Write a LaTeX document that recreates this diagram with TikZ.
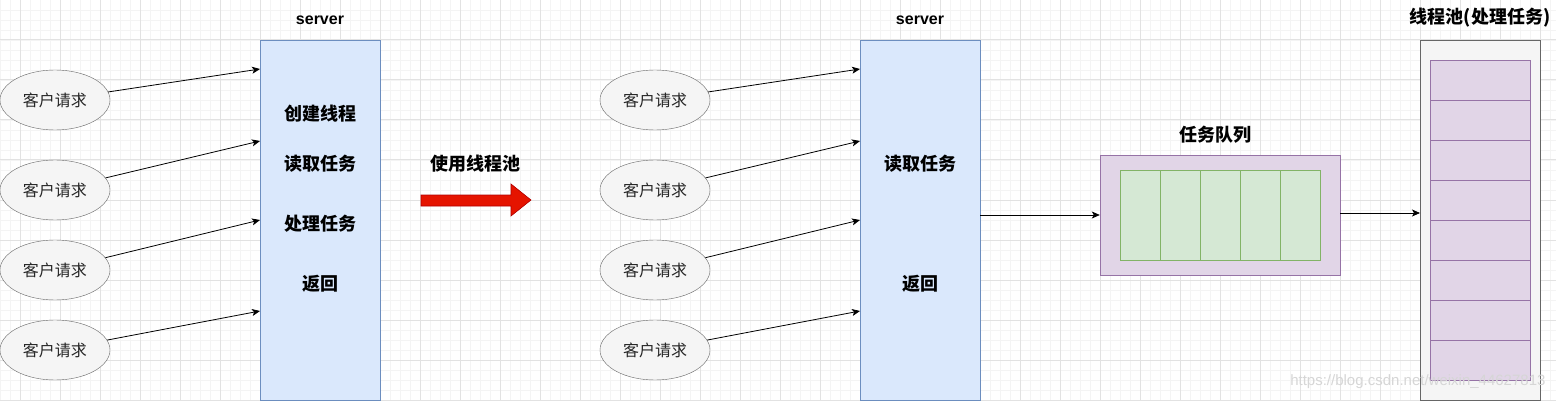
\documentclass[tikz,border=0pt]{standalone}
\usepackage{fontspec}
\setmainfont{Liberation Sans}
\newfontfamily\cjk{Noto Sans CJK SC}
\usetikzlibrary{arrows.meta,shapes.geometric}
\definecolor{bluefill}{HTML}{DAE8FC}
\definecolor{blueline}{HTML}{6C8EBF}
\definecolor{grayfill}{HTML}{F5F5F5}
\definecolor{grayline}{HTML}{666666}
\definecolor{purplefill}{HTML}{E1D5E7}
\definecolor{purpleline}{HTML}{9673A6}
\definecolor{greenfill}{HTML}{D5E8D4}
\definecolor{greenline}{HTML}{82B366}
\definecolor{redfill}{HTML}{E51400}
\definecolor{redline}{HTML}{B20000}
\definecolor{gridmajor}{HTML}{E2E2E2}
\definecolor{gridminor}{HTML}{F4F4F4}
\definecolor{wmark}{HTML}{D6D6D6}
\tikzset{
  client/.style={ellipse, draw=grayline, fill=grayfill, minimum width=110pt, minimum height=60pt, inner sep=0pt, text=black!85, font=\cjk\fontsize{16}{19}\selectfont},
  srvbox/.style={rectangle, draw=blueline, fill=bluefill, minimum width=120pt, minimum height=360pt, inner sep=0pt},
  latintitle/.style={font=\bfseries\fontsize{16}{19}\selectfont},
  cjktitle/.style={font=\cjk\bfseries\fontsize{18}{21}\selectfont},
  conn/.style={-{Stealth[length=8pt,width=7pt,inset=2pt]}, line width=0.8pt, black},
  cell/.style={rectangle, inner sep=0pt},
}
\begin{document}
\begin{tikzpicture}[x=1pt,y=-1pt]
\useasboundingbox (0,0) rectangle (1556,401);
\fill[white] (0,0) rectangle (1556,401);
% grid
\foreach \x in {0,10,...,1550} \draw[gridminor, line width=0.8pt] (\x,0) -- (\x,401);
\foreach \y in {10,20,...,400} \draw[gridminor, line width=0.8pt] (0,\y) -- (1556,\y);
\foreach \x in {20,60,...,1540} \draw[gridmajor, line width=1pt] (\x,0) -- (\x,401);
\foreach \y in {0,40,...,400} \draw[gridmajor, line width=1pt] (0,\y) -- (1556,\y);

% ---------- left part ----------
\node[srvbox] (srvL) at (320,220) {};
\node[latintitle] (srvLt) at (320,20) {server};
\node[cjktitle] (sl1) at (320,114) {创建线程};
\node[cjktitle] (sl2) at (320,164) {读取任务};
\node[cjktitle] (sl3) at (320,224) {处理任务};
\node[cjktitle] (sl4) at (320,284) {返回};

\node[client] (a1) at (55,100) {客户请求};
\node[client] (a2) at (55,190) {客户请求};
\node[client] (a3) at (55,270) {客户请求};
\node[client] (a4) at (55,350) {客户请求};
\coordinate (ta1) at (260,69);
\coordinate (ta2) at (260,141);
\coordinate (ta3) at (260,220);
\coordinate (ta4) at (260,311);
\draw[conn] (a1) -- (ta1);
\draw[conn] (a2) -- (ta2);
\draw[conn] (a3) -- (ta3);
\draw[conn] (a4) -- (ta4);

% ---------- red arrow ----------
\node[cjktitle] (use) at (475,164) {使用线程池};
\draw[fill=redfill, draw=redline, line width=0.6pt]
  (421,195) -- (511,195) -- (511,184) -- (531,200) -- (511,216) -- (511,206) -- (421,206) -- cycle;

% ---------- right part ----------
\node[srvbox] (srvR) at (920,220) {};
\node[latintitle] (srvRt) at (920,20) {server};
\node[cjktitle] (sr2) at (920,164) {读取任务};
\node[cjktitle] (sr4) at (920,284) {返回};

\node[client] (b1) at (655,100) {客户请求};
\node[client] (b2) at (655,190) {客户请求};
\node[client] (b3) at (655,270) {客户请求};
\node[client] (b4) at (655,350) {客户请求};
\coordinate (tb1) at (860,69);
\coordinate (tb2) at (860,141);
\coordinate (tb3) at (860,220);
\coordinate (tb4) at (860,311);
\draw[conn] (b1) -- (tb1);
\draw[conn] (b2) -- (tb2);
\draw[conn] (b3) -- (tb3);
\draw[conn] (b4) -- (tb4);

% ---------- queue ----------
\node[rectangle, draw=purpleline, fill=purplefill, minimum width=240pt, minimum height=120pt, inner sep=0pt] (q) at (1220,215) {};
\node[cjktitle] (qt) at (1215,135) {任务队列};
\foreach \i in {0,...,4} {
  \node[cell, draw=greenline, fill=greenfill, minimum width=40pt, minimum height=90pt] (qc\i) at (1140+40*\i,215) {};
}
\coordinate (srvRo) at (980,215);
\draw[conn] (srvRo) -- (q.west);

% ---------- thread pool ----------
\node[rectangle, draw=grayline, fill=grayfill, minimum width=120pt, minimum height=360pt, inner sep=0pt] (pool) at (1480,220) {};
\node[cjktitle] (pt) at (1480,18) {线程池(处理任务)};
\foreach \i in {0,...,7} {
  \node[cell, draw=purpleline, fill=purplefill, minimum width=100pt, minimum height=40pt] (pc\i) at (1480,80+40*\i) {};
}
\coordinate (qo) at (1340,213);
\coordinate (pin) at (1420,213);
\draw[conn] (qo) -- (pin);

% watermark
\node[text=wmark, font=\fontsize{15}{18}\selectfont, anchor=east] (wm) at (1549,382) {https://blog.csdn.net/weixin\_44627813};
\end{tikzpicture}
\end{document}
